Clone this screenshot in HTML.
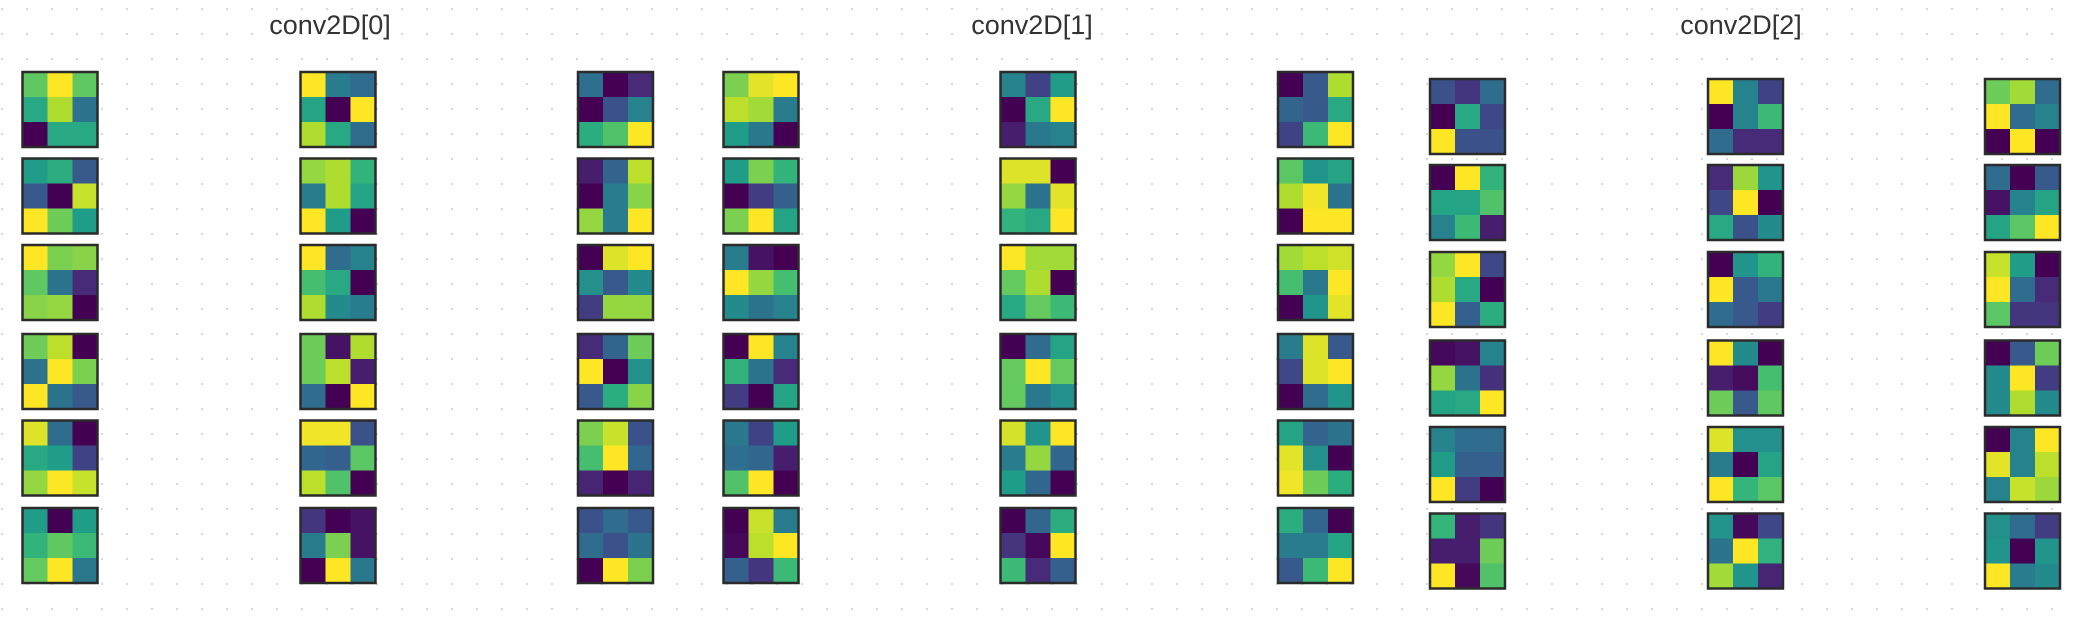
<!DOCTYPE html>
<html><head><meta charset="utf-8"><style>
html,body{margin:0;padding:0;background:#fff;}
svg{display:block;font-family:"Liberation Sans",sans-serif;}
</style></head><body>
<svg id="chart" width="2074" height="628" viewBox="0 0 2074 628" xmlns="http://www.w3.org/2000/svg">
<g id="dots"></g>
<text x="330" y="34" text-anchor="middle" font-size="27" fill="#333">conv2D[0]</text>
<text x="1032" y="34" text-anchor="middle" font-size="27" fill="#333">conv2D[1]</text>
<text x="1741" y="34" text-anchor="middle" font-size="27" fill="#333">conv2D[2]</text>
<g id="maps"></g>
</svg>
<script>
// kernel values per column (9 columns x 6 kernels x 9 cells), 0..1 viridis scale
const col0 = [[0.75,1,0.75,0.6,0.88,0.38,0,0.6,0.6],[0.55,0.62,0.28,0.28,0,0.92,1,0.78,0.55],[1,0.8,0.82,0.75,0.38,0.12,0.82,0.84,0],[0.78,0.9,0,0.38,1,0.8,1,0.38,0.28],[0.95,0.35,0,0.6,0.55,0.2,0.84,1,0.92],[0.55,0,0.55,0.65,0.75,0.68,0.76,1,0.4]];
const col1 = [[1,0.42,0.35,0.58,0,1,0.88,0.6,0.35],[0.84,0.88,0.65,0.42,0.88,0.58,1,0.55,0],[1,0.35,0.45,0.7,0.6,0,0.88,0.48,0.42],[0.78,0.05,0.88,0.78,0.9,0.08,0.35,0,1],[0.98,0.98,0.25,0.33,0.3,0.74,0.9,0.72,0],[0.15,0,0.05,0.42,0.8,0.05,0,1,0.4]];
const col2 = [[0.36,0,0.12,0,0.25,0.45,0.62,0.72,1],[0.08,0.32,0.9,0,0.42,0.82,0.84,0.42,1],[0,0.95,1,0.5,0.28,0.48,0.18,0.84,0.84],[0.12,0.32,0.78,1,0,0.5,0.28,0.62,0.82],[0.8,0.92,0.25,0.7,1,0.33,0.1,0,0.1],[0.25,0.35,0.28,0.35,0.25,0.38,0,1,0.8]];
const col3 = [[0.8,0.96,1,0.9,0.86,0.42,0.55,0.4,0],[0.55,0.8,0.65,0,0.18,0.3,0.8,1,0.58],[0.42,0.05,0,1,0.84,0.7,0.48,0.38,0.45],[0,1,0.45,0.65,0.38,0.12,0.18,0,0.58],[0.4,0.2,0.55,0.36,0.33,0.08,0.72,1,0],[0,0.92,0.42,0.02,0.9,1,0.3,0.15,0.68]];
const col4 = [[0.45,0.2,0.55,0,0.6,1,0.08,0.4,0.45],[0.95,0.95,0,0.84,0.38,0.96,0.65,0.6,1],[1,0.86,0.86,0.76,0.88,0,0.6,0.76,0.68],[0,0.35,0.58,0.76,1,0.76,0.76,0.4,0.5],[0.94,0.52,1,0.42,0.84,0.33,0.55,0.33,0],[0,0.33,0.62,0.15,0.02,1,0.68,0.12,0.3]];
const col5 = [[0,0.28,0.88,0.32,0.28,0.6,0.2,0.68,1],[0.74,0.52,0.58,0.88,0.98,0.38,0,1,1],[0.86,0.9,0.93,0.7,0.4,1,0,0.52,0.96],[0.42,0.95,0.28,0.22,0.95,1,0,0.35,0.52],[0.58,0.32,0.38,0.96,0.5,0,0.98,0.78,0.62],[0.62,0.33,0,0.42,0.42,0.58,0.28,0.68,1]];
const col6 = [[0.25,0.15,0.35,0,0.6,0.22,1,0.25,0.25],[0,1,0.65,0.58,0.58,0.72,0.45,0.68,0.08],[0.84,1,0.22,0.88,0.6,0,1,0.3,0.62],[0.02,0.05,0.45,0.84,0.38,0.14,0.58,0.6,1],[0.45,0.35,0.35,0.55,0.3,0.3,1,0.18,0],[0.66,0.08,0.15,0.08,0.08,0.78,1,0.02,0.72]];
const col7 = [[1,0.45,0.2,0,0.45,0.68,0.35,0.12,0.12],[0.12,0.85,0.52,0.22,1,0,0.6,0.25,0.48],[0,0.52,0.65,1,0.28,0.4,0.35,0.28,0.18],[1,0.48,0,0.08,0.03,0.7,0.78,0.28,0.75],[0.95,0.5,0.5,0.42,0,0.58,1,0.66,0.74],[0.52,0.02,0.22,0.38,1,0.64,0.86,0.52,0.1]];
const col8 = [[0.78,0.86,0.35,1,0.35,0.45,0,1,0],[0.35,0,0.28,0.05,0.45,0.58,0.58,0.74,1],[0.92,0.55,0,1,0.35,0.12,0.74,0.15,0.15],[0,0.28,0.78,0.48,1,0.18,0.48,0.88,0.48],[0,0.45,1,0.96,0.45,0.9,0.45,0.92,0.85],[0.5,0.35,0.18,0.52,0,0.52,1,0.42,0.48]];
const columns = [col0,col1,col2,col3,col4,col5,col6,col7,col8];
const layerOf = [0,0,1,1,1,1,2,2,2];

const NS = "http://www.w3.org/2000/svg";
const colX = [22.5,300.5,578,723.5,1000.5,1278,1430,1708,1985];
const rowY01 = [72,158.5,245,334,420.5,508];
const rowY2 = [79,165,252,340.5,427,513.5];
const SIZE = 75;

const stops = [[68,1,84],[72,40,120],[62,73,137],[49,104,142],[38,130,142],[31,158,137],[53,183,121],[109,205,89],[180,222,44],[253,231,37]];
function viridis(v){
  v = Math.max(0, Math.min(1, v));
  const p = v*(stops.length-1), i = Math.min(stops.length-2, Math.floor(p)), f = p-i;
  const a = stops[i], b = stops[i+1];
  return "rgb("+a.map((c,k)=>Math.round(c+(b[k]-c)*f)).join(",")+")";
}

const dots = document.getElementById("dots");
for (let y = 9; y < 628; y += 25) {
  for (let x = 2; x < 2074; x += 25) {
    const c = document.createElementNS(NS, "circle");
    c.setAttribute("cx", x); c.setAttribute("cy", y); c.setAttribute("r", 1.1); c.setAttribute("fill", "#d4d4d4");
    
    
    dots.appendChild(c);
  }
}

const maps = document.getElementById("maps");
columns.forEach((col, ci) => {
  const rows = layerOf[ci] === 2 ? rowY2 : rowY01;
  col.forEach((kernel, ri) => {
    const g = document.createElementNS(NS, "g");
    
    
    const x0 = colX[ci], y0 = rows[ri], cs = SIZE/3;
    kernel.forEach((v, k) => {
      const r = document.createElementNS(NS, "rect");
      r.setAttribute("x", x0 + (k%3)*cs); r.setAttribute("y", y0 + Math.floor(k/3)*cs);
      r.setAttribute("width", cs+0.3); r.setAttribute("height", cs+0.3);
      r.setAttribute("fill", viridis(v));
      
      
      g.appendChild(r);
    });
    const b = document.createElementNS(NS, "rect");
    b.setAttribute("x", x0); b.setAttribute("y", y0); b.setAttribute("width", SIZE); b.setAttribute("height", SIZE);
    b.setAttribute("fill", "none"); b.setAttribute("stroke", "#2b2b2b"); b.setAttribute("stroke-width", "2.5");
    
    
    g.appendChild(b);
    maps.appendChild(g);
  });
});
</script>
</body></html>
